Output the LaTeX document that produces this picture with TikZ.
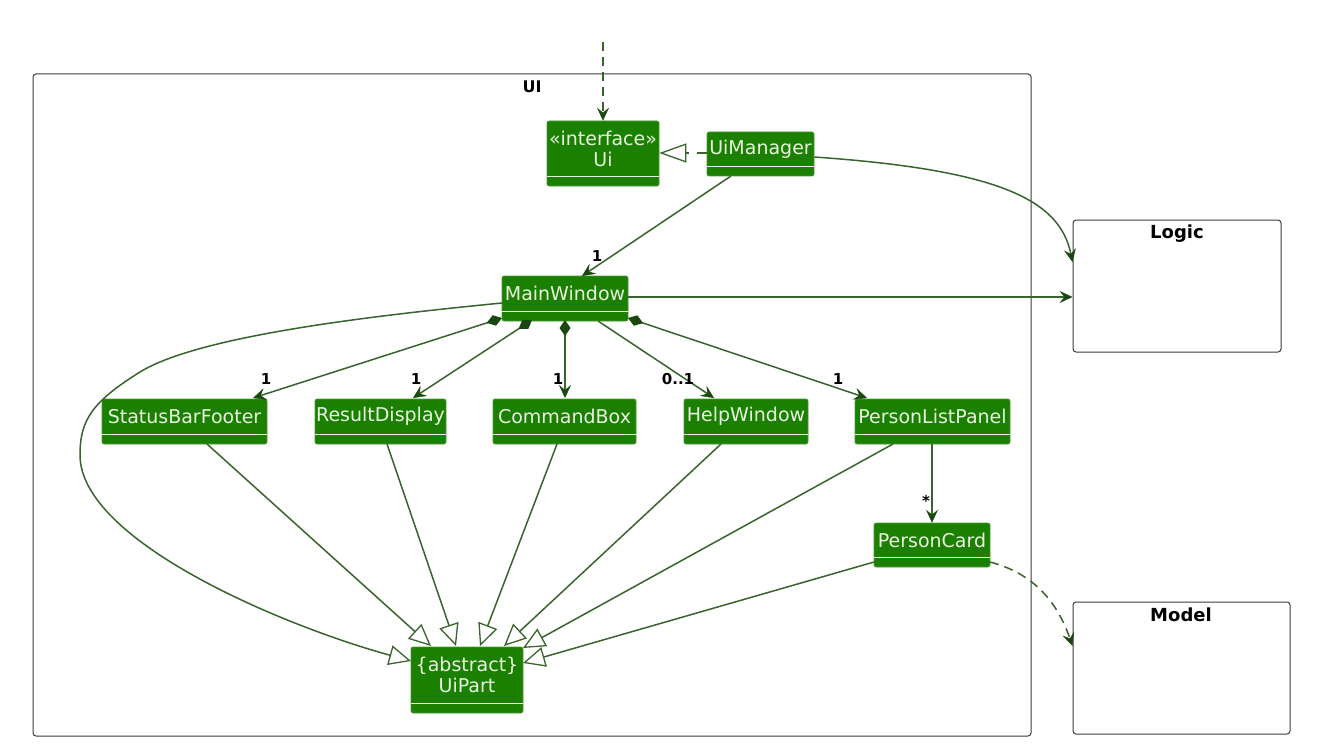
\documentclass[tikz,border=0pt]{standalone}
\usepackage{fontspec}
\setmainfont{DejaVu Sans}
\usetikzlibrary{arrows.meta,fit,calc}
\definecolor{boxfill}{RGB}{27,128,0}
\definecolor{boxtext}{RGB}{232,243,225}
\definecolor{lnc}{RGB}{58,100,46}
\definecolor{headc}{RGB}{26,72,16}
\definecolor{framec}{RGB}{60,60,60}
\tikzset{
  clsbox/.style={fill=boxfill, draw=boxfill!80!white, line width=0.6pt, rounded corners=2pt, inner sep=0pt},
  clstext/.style={text=boxtext, font=\fontsize{19}{21}\selectfont, inner sep=0pt, align=center},
  sepline/.style={draw=boxtext, line width=1.2pt},
  pkg/.style={draw=framec, line width=1pt, rounded corners=3pt},
  pkglabel/.style={font=\bfseries\fontsize{18}{20}\selectfont, inner sep=0pt},
  mult/.style={font=\bfseries\fontsize{15}{16}\selectfont, inner sep=0pt},
  conn/.style={draw=lnc, line width=1.5pt},
  arr/.style={conn, -{Stealth[length=13pt,width=12pt,inset=5pt,line width=0.5pt,color=headc,fill=headc]}},
  comp/.style={conn, {Diamond[length=16pt,width=11pt,color=headc,fill=headc]}-{Stealth[length=13pt,width=12pt,inset=5pt,line width=0.5pt,color=headc,fill=headc]}},
  inh/.style={conn, -{Triangle[open,length=22pt,width=20pt,line width=1.3pt,fill=white,color=lnc]}},
  dsh/.style={dash pattern=on 9pt off 6pt},
}
\newcommand\classbox[6]{%
  \node[clsbox, fit={(#2,#3)(#4,#5)}] (#1) {};
  \draw[sepline] (#2,#5-9.5) -- (#4,#5-9.5);
  \node[clstext] (#1-t) at ({(#2+#4)/2},{(#3+#5-9.5)/2}) {#6};
}
\begin{document}
\begin{tikzpicture}[x=1pt,y=-1pt]
\useasboundingbox[fill=white] (0,0) rectangle (1337,746);

% packages
\node[pkg, fit={(33,74)(1031,736)}, inner sep=0pt] (ui) {};
\node[pkglabel, font=\bfseries\fontsize{16}{18}\selectfont] (uil) at (532,87) {UI};
\node[pkg, fit={(1073,220)(1281,352)}, inner sep=0pt] (logic) {};
\node[pkglabel] (logicl) at (1177,234) {Logic};
\node[pkg, fit={(1073,602)(1290,734)}, inner sep=0pt] (model) {};
\node[pkglabel] (modell) at (1181,615) {Model};

% classes
\classbox{uiif}{547}{121}{659}{186}{«interface»\\Ui}
\classbox{uim}{707}{132}{814}{176}{UiManager}
\classbox{mw}{502}{276}{628}{321}{MainWindow}
\classbox{sbf}{102}{399}{267}{444}{StatusBarFooter}
\classbox{rd}{315}{399}{446}{444}{ResultDisplay}
\classbox{cb}{493}{399}{636}{444}{CommandBox}
\classbox{hw}{684}{399}{808}{444}{HelpWindow}
\classbox{plp}{855}{399}{1010}{444}{PersonListPanel}
\classbox{pc}{874}{523}{990}{567}{PersonCard}
\classbox{up}{411}{647}{523}{713}{\{abstract\}\\UiPart}

% top dashed arrow
\coordinate (topin) at (603,42);
\draw[arr, dsh] (topin) -- (uiif.north);

% realization
\draw[conn, -{Triangle[open,length=27pt,width=19pt,line width=1.3pt,fill=white,color=lnc]}, dash pattern=on 10pt off 8pt] (uim.west |- 0,153) -- (uiif.east |- 0,153);

% UiManager -> Logic
\draw[arr] (uim.east |- 0,157) .. controls (1000,170) and (1060,200) .. (logic.west |- 0,262);
% UiManager -> MainWindow
\draw[arr] (731,176) -- (582,276);
\node[mult] (m0) at (597,256) {1};
% MainWindow -> Logic
\draw[arr] (mw.east |- 0,297) -- (logic.west |- 0,297);

% compositions
\draw[comp] (502,318) -- (253,398);
\node[mult] (m1) at (266,379) {1};
\draw[comp] (532,320) -- (413,398);
\node[mult] (m2) at (416,379) {1};
\draw[comp] (565,320) -- (565,398);
\node[mult] (m3) at (558,379) {1};
\draw[arr] (598,321) -- (714,398);
\node[mult] (m4) at (678,379) {0..1};
\draw[comp] (628,318) -- (867,398);
\node[mult] (m5) at (838,379) {1};

% PersonListPanel -> PersonCard
\draw[arr] (932,444) -- (pc.north -| 932,0);
\node[mult] (m6) at (926,501) {*};

% PersonCard -> Model
\draw[arr, dsh] (990,562) .. controls (1040,575) and (1060,610) .. (model.west |- 0,646);

% inheritance to UiPart
\draw[inh] (502,303) .. controls (380,315) and (200,335) .. (140,372)
  .. controls (92,402) and (80,420) .. (80,455)
  .. controls (80,540) and (280,625) .. (411,661);
\draw[inh] (207,444) -- (431,646);
\draw[inh] (387,444) -- (456,646);
\draw[inh] (557,444) -- (480,646);
\draw[inh] (721,444) -- (504,646);
\draw[inh] (893,444) -- (523,648);
\draw[inh] (874,562) -- (523,663);
\end{tikzpicture}
\end{document}
